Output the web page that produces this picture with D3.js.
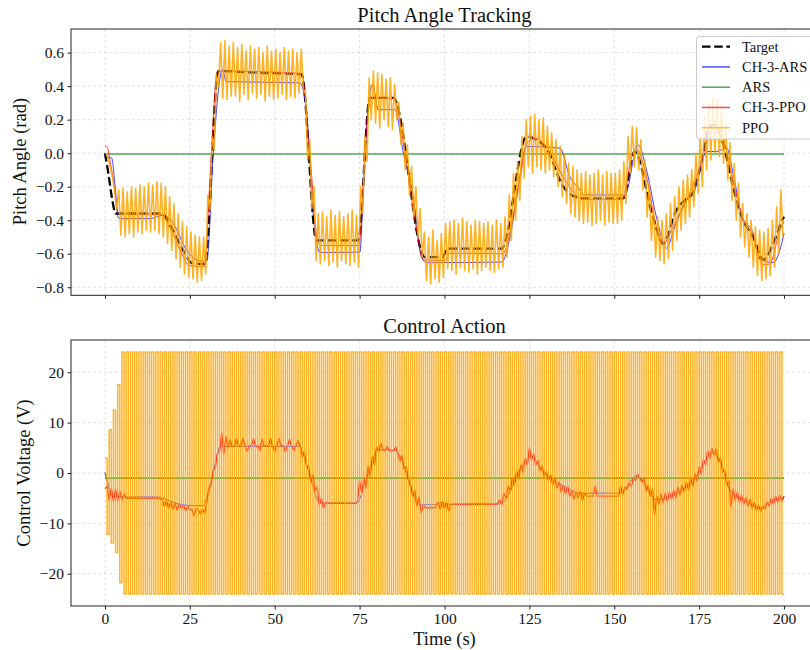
<!DOCTYPE html>
<html>
<head>
<meta charset="utf-8">
<script src="https://cdn.jsdelivr.net/npm/d3@7"></script>
<style>
  body { margin: 0; background: #fff; }
  text { font-family: "Liberation Serif", "Times New Roman", serif; }
</style>
</head>
<body>
<div id="chart"></div>
<script>
// ---- data ----
var seriesNames = ["Target", "CH-3-ARS", "ARS", "CH-3-PPO", "PPO"];
var xTicks = [0, 25, 50, 75, 100, 125, 150, 175, 200];
var pitchTicks = [-0.8, -0.6, -0.4, -0.2, 0.0, 0.2, 0.4, 0.6];
var voltTicks = [-20, -10, 0, 10, 20];

// pitch angle, [time s, rad]
var targetPitch = [[0,0],[1,-0.12],[2,-0.26],[3.2,-0.36],[16.7,-0.36],[20,-0.46],[23,-0.58],[26,-0.66],
  [29.4,-0.66],[33.4,0.49],[45,0.48],[57.9,0.47],[62.3,-0.52],[74.6,-0.52],[78,0.33],[84.9,0.33],
  [94.2,-0.62],[99.5,-0.62],[100.8,-0.57],[116.8,-0.57],[124.2,0.1],[127,0.08],[130,0.03],[135,-0.2],
  [139.3,-0.267],[140,-0.27],[152.6,-0.27],[156,0.01],[161.4,-0.38],[164.4,-0.54],[168.3,-0.34],
  [171.3,-0.27],[173,-0.24],[175.2,-0.1],[178.2,0.16],[179.5,0.17],[182,0.06],[185,-0.2],[187.5,-0.38],
  [190.9,-0.5],[193.9,-0.637],[196.8,-0.54],[199.7,-0.39],[200,-0.38]];

var ch3ArsPitch = [[0,-0.02],[2,-0.03],[3,-0.2],[3.9,-0.385],[4.9,-0.39],[13.3,-0.39],[17.2,-0.37],
  [20.1,-0.42],[24,-0.577],[28,-0.643],[30,-0.645],[31.9,0.0],[33.9,0.45],[34.5,0.5],[35.8,0.427],
  [57.4,0.42],[59.4,0.239],[61.3,-0.358],[63.3,-0.593],[75.1,-0.59],[76,-0.26],[77,0.14],[78.8,0.41],
  [80.5,0.26],[85.4,0.26],[87.9,0.0],[90.8,-0.26],[93.2,-0.617],[94.7,-0.653],[116.8,-0.65],[119.3,-0.5],
  [121.7,-0.2],[124.2,0.04],[134,0.03],[136.9,-0.14],[139.9,-0.22],[140.8,-0.249],[153.1,-0.25],
  [157,0.05],[159.5,-0.1],[162.4,-0.38],[165.4,-0.567],[167.8,-0.44],[171.3,-0.28],[173.2,-0.25],
  [175.2,-0.1],[177.2,0.01],[180.1,0.01],[183.1,0.03],[185,-0.12],[187.5,-0.37],[190.9,-0.48],
  [192.9,-0.63],[196.8,-0.653],[198.8,-0.577],[200,-0.477]];

var arsPitch = [[0,-0.005],[200,-0.005]];

var ch3PpoPitch = [[0,0.044],[0.8,0.03],[1.5,-0.05],[2.5,-0.16],[3.9,-0.36],[16.2,-0.364],[19.1,-0.44],
  [22.1,-0.577],[25,-0.672],[29.4,-0.675],[30.9,-0.16],[33.2,0.49],[57.9,0.477],[60.4,-0.02],
  [62.8,-0.537],[64,-0.551],[74.8,-0.551],[76,-0.2],[78,0.328],[84.9,0.328],[88.8,-0.06],[91.8,-0.458],
  [93.7,-0.637],[100.1,-0.64],[101.6,-0.597],[117.3,-0.6],[119.8,-0.418],[122.2,-0.16],[124.2,0.06],
  [126.5,0.09],[130,0.04],[134.9,-0.14],[139.4,-0.26],[141,-0.275],[152.6,-0.275],[155.1,-0.02],
  [156.6,0.02],[159.5,-0.14],[162.4,-0.44],[164.4,-0.54],[167.3,-0.44],[171.3,-0.28],[175.2,-0.08],
  [178.2,0.12],[179.5,0.15],[182.1,0.08],[185,-0.16],[188,-0.4],[190.9,-0.5],[193.9,-0.666],
  [195.8,-0.66],[198.8,-0.458],[200,-0.408]];

// PPO pitch oscillates: one peak and one trough per 1.25 s cycle
var ppoStep = 0.625;
var ppoPeak = [
  0.0,-0.08,-0.22,-0.22,-0.21,-0.23,-0.2,-0.21,-0.19,-0.2,
  -0.18,-0.19,-0.17,-0.18,-0.2,-0.26,-0.3,-0.36,-0.41,-0.44,
  -0.47,-0.49,-0.5,-0.5,-0.25,0.1,0.47,0.66,0.67,0.64,
  0.66,0.63,0.65,0.61,0.64,0.62,0.63,0.6,0.64,0.61,
  0.62,0.6,0.63,0.61,0.62,0.6,0.62,0.36,0.08,-0.2,
  -0.36,-0.35,-0.38,-0.34,-0.37,-0.35,-0.38,-0.36,-0.34,-0.37,
  -0.2,0.1,0.45,0.49,0.48,0.47,0.44,0.45,0.41,0.3,
  0.18,0.05,-0.08,-0.2,-0.33,-0.47,-0.5,-0.46,-0.52,-0.48,
  -0.42,-0.41,-0.4,-0.42,-0.39,-0.41,-0.43,-0.4,-0.41,-0.42,
  -0.41,-0.43,-0.4,-0.42,-0.38,-0.25,-0.12,-0.05,0.1,0.2,
  0.22,0.23,0.2,0.21,0.16,0.12,0.08,0.04,-0.01,-0.06,
  -0.08,-0.1,-0.12,-0.11,-0.13,-0.12,-0.1,-0.13,-0.11,-0.12,
  -0.12,-0.1,-0.05,0.1,0.16,0.15,0.08,-0.04,-0.18,-0.32,
  -0.38,-0.4,-0.36,-0.3,-0.26,-0.2,-0.16,-0.13,-0.1,0.0,
  0.1,0.22,0.3,0.33,0.32,0.28,0.18,0.06,-0.06,-0.18,
  -0.3,-0.36,-0.4,-0.44,-0.46,-0.47,-0.45,-0.4,-0.32,-0.22];
var ppoTrough = [
  -0.03,-0.14,-0.33,-0.49,-0.5,-0.48,-0.5,-0.47,-0.48,-0.46,
  -0.47,-0.46,-0.48,-0.5,-0.54,-0.58,-0.63,-0.68,-0.72,-0.74,
  -0.75,-0.77,-0.76,-0.72,-0.34,0.02,0.4,0.33,0.32,0.34,
  0.34,0.31,0.35,0.32,0.36,0.33,0.35,0.31,0.34,0.32,
  0.33,0.35,0.32,0.34,0.33,0.36,0.38,-0.04,-0.33,-0.64,
  -0.66,-0.64,-0.67,-0.65,-0.68,-0.64,-0.66,-0.67,-0.65,-0.68,
  -0.36,-0.05,0.2,0.18,0.15,0.2,0.16,0.14,0.2,0.05,
  -0.1,-0.25,-0.38,-0.5,-0.62,-0.76,-0.78,-0.75,-0.77,-0.74,
  -0.69,-0.7,-0.72,-0.68,-0.7,-0.71,-0.69,-0.72,-0.7,-0.68,
  -0.7,-0.71,-0.69,-0.68,-0.62,-0.52,-0.4,-0.28,-0.15,-0.08,
  -0.12,-0.08,-0.1,-0.12,-0.1,-0.14,-0.2,-0.26,-0.3,-0.36,
  -0.38,-0.4,-0.42,-0.41,-0.43,-0.42,-0.4,-0.43,-0.41,-0.42,
  -0.42,-0.4,-0.3,-0.12,-0.08,-0.1,-0.22,-0.38,-0.52,-0.62,
  -0.64,-0.66,-0.63,-0.58,-0.52,-0.46,-0.42,-0.38,-0.32,-0.24,
  -0.2,-0.1,-0.04,0.0,-0.02,-0.06,-0.16,-0.28,-0.4,-0.5,
  -0.56,-0.62,-0.68,-0.73,-0.76,-0.75,-0.73,-0.68,-0.6,-0.5];

// control voltage
var ch3ArsVolt = [[0,0.1],[1,-2.5],[2,-4.6],[3,-4.75],[15.2,-4.75],[17,-5.0],[20,-5.8],[24,-6.4],
  [28.9,-6.5],[30,-4.9],[31.5,-1.0],[33,3.5],[33.9,5.3],[57.4,5.3],[60,0.3],[63.3,-5.94],[74.1,-6.0],
  [77,-1.2],[80.5,4.6],[85.4,4.5],[92.8,-6.3],[97,-6.3],[99,-5.8],[101,-6.2],[116.3,-6.15],[124.2,2.6],
  [125.5,3.3],[127,2.2],[129,0.3],[132,-1.4],[135,-2.6],[137,-3.3],[139.9,-4.0],[151.7,-4.0],
  [156.6,-0.5],[162.4,-5.3],[168.3,-4.0],[171,-2.8],[173.2,-1.7],[176.2,2.0],[179.1,4.0],[182.1,0.65],
  [184,-3.3],[188,-5.3],[192.9,-6.9],[196.8,-5.3],[200,-4.95]];

var arsVolt = [[0,-1.0],[200,-1.0]];

// CH-3-PPO voltage, one value every ppoStep seconds
var ch3PpoVolt = [
  -3.1,-2.6,-5.4,-3.0,-5.6,-3.2,-5.5,-3.6,-5.3,-4.2,-5.0,-5.0,-5.0,-5.0,-5.0,-5.0,
  -5.0,-5.0,-5.0,-5.0,-5.0,-5.0,-5.0,-5.0,-5.0,-5.0,-5.1,-5.3,-6.6,-5.5,-6.9,-5.8,
  -7.2,-6.0,-7.4,-6.2,-7.0,-6.4,-7.5,-6.6,-7.3,-7.2,-8.5,-7.1,-7.3,-8.2,-7.2,-8.0,
  -5.8,-3.0,-2.4,0.5,1.0,3.9,4.2,7.9,3.8,7.2,5.0,6.6,5.2,5.4,6.8,5.3,
  5.4,6.9,5.3,4.3,5.4,5.4,6.8,5.2,5.4,4.4,6.7,5.4,5.3,5.4,6.9,5.3,
  4.3,5.4,6.8,5.3,5.4,4.2,5.4,6.7,5.3,4.5,5.4,6.4,5.2,3.2,4.1,1.4,
  1.1,-1.8,-0.4,-3.6,-2.8,-6.2,-5.0,-7.0,-5.8,-6.0,-6.0,-6.0,-6.0,-6.0,-6.0,-6.0,
  -6.0,-6.0,-6.0,-6.0,-6.0,-6.0,-6.0,-5.6,-1.6,-4.0,-1.0,-3.0,1.4,-0.8,3.2,1.5,
  5.2,4.2,5.9,4.6,4.5,5.3,4.5,4.4,4.5,5.2,3.8,2.4,3.5,0.7,1.3,-1.2,
  -2.2,-4.6,-3.4,-6.6,-4.8,-7.9,-6.5,-6.9,-6.9,-6.9,-6.9,-6.9,-6.7,-5.9,-7.2,-5.7,
  -7.0,-5.8,-7.6,-6.3,-6.2,-6.2,-6.2,-6.2,-6.2,-6.2,-6.2,-6.2,-6.2,-6.2,-6.2,-6.2,
  -6.2,-6.2,-6.2,-6.2,-6.2,-6.2,-6.2,-6.2,-6.2,-6.1,-5.3,-6.2,-4.0,-5.0,-2.6,-3.6,
  -0.9,-2.3,0.4,-1.1,1.6,0.2,2.9,1.6,5.0,2.6,3.8,1.6,2.5,0.5,1.4,-0.7,
  0.3,-1.4,-0.4,-2.4,-1.0,-3.0,-1.8,-3.8,-2.4,-4.2,-2.6,-4.6,-3.4,-5.2,-3.8,-4.9,
  -3.6,-5.4,-4.0,-4.6,-4.6,-4.6,-4.6,-2.6,-4.6,-4.6,-4.6,-4.6,-4.6,-4.6,-4.6,-4.6,
  -4.6,-4.6,-4.6,-2.7,-4.3,-2.8,-3.2,-2.0,-2.6,-1.1,-1.5,-0.3,-1.0,-1.8,-1.0,-3.6,
  -2.4,-4.6,-3.2,-8.3,-4.6,-6.2,-4.2,-5.9,-4.0,-5.6,-3.8,-5.2,-3.4,-4.9,-2.8,-4.4,
  -2.4,-3.8,-1.8,-3.4,-1.0,-2.7,-0.2,-1.6,1.1,-0.2,2.6,1.6,4.4,2.8,4.9,3.6,
  4.8,2.2,3.0,0.2,0.6,-2.4,-1.6,-6.6,-3.2,-5.4,-3.8,-5.8,-4.4,-6.2,-4.8,-6.6,
  -5.2,-7.0,-5.8,-7.4,-6.4,-7.6,-6.6,-7.2,-5.8,-6.6,-5.0,-6.2,-4.6,-5.8,-4.4,-5.6,-4.6];

// PPO voltage, saturating bang-bang, one value every ppoStep seconds
var ppoVolt = [3,-12.2,8.6,-13.9,12.5,-15.8,17.5,-21.8,
  24,-24,24,-24,24,-24,24,-24,24,-24,24,-24,24,-24,24,-24,24,-24,24,-24,24,-24,24,-24,24,-24,
  24,-24,24,-24,24,-24,24,-24,24,-24,24,-24,24,-24,24,-24,24,-24,24,-24,24,-24,24,-24,24,-24,
  24,-24,24,-24,24,-24,24,-24,24,-24,24,-24,24,-24,24,-24,24,-24,24,-24,24,-24,24,-24,24,-24,
  24,-24,24,-24,24,-24,24,-24,24,-24,24,-24,24,-24,24,-24,24,-24,24,-24,24,-24,24,-24,24,-24,
  24,-24,24,-24,24,-24,24,-24,24,-24,24,-24,24,-24,24,-24,24,-24,24,-24,24,-24,24,-24,24,-24,
  24,-24,24,-24,24,-24,24,-24,24,-24,24,-24,24,-24,24,-24,24,-24,24,-24,24,-24,24,-24,24,-24,
  24,-24,24,-24,24,-24,24,-24,24,-24,24,-24,24,-24,24,-24,24,-24,24,-24,24,-24,24,-24,24,-24,
  24,-24,24,-24,24,-24,24,-24,24,-24,24,-24,24,-24,24,-24,24,-24,24,-24,24,-24,24,-24,24,-24,
  24,-24,24,-24,24,-24,24,-24,24,-24,24,-24,24,-24,24,-24,24,-24,24,-24,24,-24,24,-24,24,-24,
  24,-24,24,-24,24,-24,24,-24,24,-24,24,-24,24,-24,24,-24,24,-24,24,-24,24,-24,24,-24,24,-24,
  24,-24,24,-24,24,-24,24,-24,24,-24,24,-24,24,-24,24,-24,24,-24,24,-24,24,-24,24,-24,24,-24,
  24,-24,24,-24,24,-24,24,-24,24,-24,24,-24,24,-24,24,-24,24,-24,24,-24,24,-24,24,-24,24,-24];

// ---- layout ----
var W = 810, H = 650;
var colours = {"Target": "#000", "CH-3-ARS": "blue", "ARS": "green", "CH-3-PPO": "red", "PPO": "orange"};

var svg = d3.select("#chart").append("svg").attr("width", W).attr("height", H);

var x = d3.scaleLinear().domain([-10, 210]).range([71, 818]);
var yPitch = d3.scaleLinear().domain([-0.848, 0.741]).range([295.3, 29]);
var yVolt = d3.scaleLinear().domain([-26.4, 26.4]).range([606, 340]);

// ppo series built from step-sampled arrays
var ppoPitch = [];
ppoPeak.forEach(function(p, k) {
    ppoPitch.push([(2 * k + 0.5) * ppoStep, p]);
    ppoPitch.push([(2 * k + 1.5) * ppoStep, ppoTrough[k]]);
});
var ch3PpoVoltPts = ch3PpoVolt.map(function(v, i) { return [i * ppoStep, v]; });
var ppoVoltPts = ppoVolt.map(function(v, i) { return [i * ppoStep, v]; });
ppoVoltPts.push([200, ppoVolt[ppoVolt.length - 1]]);

function panel(y0, y1, y, yTicks, yFmt, showX, id) {
    var g = svg.append("g");
    g.append("clipPath").attr("id", id).append("rect")
        .attr("x", 71).attr("y", y0).attr("width", 747).attr("height", y1 - y0);

    // grid
    var grid = g.append("g").attr("stroke", "#b0b0b0").attr("stroke-opacity", 0.45)
        .attr("stroke-width", 0.8).attr("stroke-dasharray", "3,2.5");
    xTicks.forEach(function(t) {
        grid.append("line").attr("x1", x(t)).attr("x2", x(t)).attr("y1", y0).attr("y2", y1);
    });
    yTicks.forEach(function(t) {
        grid.append("line").attr("x1", 71).attr("x2", 818).attr("y1", y(t)).attr("y2", y(t));
    });

    var xAxisCall = d3.axisBottom(x).tickValues(xTicks).tickSize(3.5).tickPadding(3.5)
        .tickFormat(showX ? d3.format("d") : "");
    var xa = g.append("g").attr("transform", "translate(0," + y1 + ")").call(xAxisCall);
    var yAxisCall = d3.axisLeft(y).tickValues(yTicks).tickSize(3.5).tickPadding(3.5).tickFormat(yFmt);
    var ya = g.append("g").attr("transform", "translate(71,0)").call(yAxisCall);
    [xa, ya].forEach(function(a) {
        a.select(".domain").remove();
        a.selectAll("line").attr("stroke", "#222");
        a.selectAll("text").attr("font-size", "15.5px").attr("fill", "#111");
    });

    var plot = g.append("g").attr("clip-path", "url(#" + id + ")");
    return {g: g, plot: plot, y0: y0, y1: y1};
}

function frame(p) {
    p.g.append("rect").attr("x", 71).attr("y", p.y0).attr("width", 760).attr("height", p.y1 - p.y0)
        .attr("fill", "none").attr("stroke", "#222").attr("stroke-width", 1);
}

function addLine(plot, data, y, colour, width, opacity, curve, dash) {
    var line = d3.line().x(function(d) { return x(d[0]); }).y(function(d) { return y(d[1]); }).curve(curve);
    var p = plot.append("path").datum(data).attr("d", line).attr("fill", "none")
        .attr("stroke", colour).attr("stroke-width", width).attr("stroke-opacity", opacity)
        .attr("stroke-linejoin", "round");
    if (dash) p.attr("stroke-dasharray", dash);
    return p;
}

// Top panel
var pTop = panel(29, 295.3, yPitch, pitchTicks, d3.format(".1f"), false, "clipTop");
addLine(pTop.plot, targetPitch, yPitch, colours["Target"], 2.3, 1, d3.curveMonotoneX, "8.5,3.7");
addLine(pTop.plot, ch3ArsPitch, yPitch, colours["CH-3-ARS"], 1, 0.75, d3.curveMonotoneX);
addLine(pTop.plot, arsPitch, yPitch, colours["ARS"], 1.2, 1, d3.curveLinear);
addLine(pTop.plot, ch3PpoPitch, yPitch, colours["CH-3-PPO"], 1, 0.75, d3.curveMonotoneX);
addLine(pTop.plot, ppoPitch, yPitch, colours["PPO"], 1.6, 0.85, d3.curveLinear);
frame(pTop);

// Bottom panel
var pBot = panel(340, 606, yVolt, voltTicks, d3.format("d"), true, "clipBot");
addLine(pBot.plot, ch3ArsVolt, yVolt, colours["CH-3-ARS"], 1, 0.75, d3.curveMonotoneX);
addLine(pBot.plot, arsVolt, yVolt, colours["ARS"], 1.2, 1, d3.curveLinear);
addLine(pBot.plot, ch3PpoVoltPts, yVolt, colours["CH-3-PPO"], 1.4, 0.85, d3.curveLinear);
addLine(pBot.plot, ppoVoltPts, yVolt, colours["PPO"], 1.5, 0.85, d3.curveStepAfter);
frame(pBot);

// titles and labels
svg.append("text").attr("x", 444.5).attr("y", 22).attr("text-anchor", "middle")
    .attr("font-size", "20.5px").attr("fill", "#111").text("Pitch Angle Tracking");
svg.append("text").attr("x", 444.5).attr("y", 333).attr("text-anchor", "middle")
    .attr("font-size", "20.5px").attr("fill", "#111").text("Control Action");
svg.append("text").attr("x", 444.5).attr("y", 645).attr("text-anchor", "middle")
    .attr("font-size", "18.5px").attr("fill", "#111").text("Time (s)");
svg.append("text").attr("transform", "translate(25.5," + yPitch(-0.05) + ") rotate(-90)")
    .attr("text-anchor", "middle").attr("font-size", "18.5px").attr("fill", "#111").text("Pitch Angle (rad)");
svg.append("text").attr("transform", "translate(29.5," + yVolt(0) + ") rotate(-90)")
    .attr("text-anchor", "middle").attr("font-size", "18.5px").attr("fill", "#111").text("Control Voltage (V)");

// legend
var legend = svg.append("g").attr("class", "legend");
legend.append("rect").attr("x", 696.5).attr("y", 36.5).attr("width", 130).attr("height", 102.5)
    .attr("rx", 3).attr("fill", "#fff").attr("fill-opacity", 0.8).attr("stroke", "#cccccc");
var item = legend.selectAll("g.item").data(seriesNames).enter().append("g")
    .attr("class", "item")
    .attr("transform", function(d, i) { return "translate(0," + (46.7 + i * 20.25) + ")"; });
item.append("line").attr("x1", 702).attr("x2", 730).attr("y1", 0).attr("y2", 0)
    .attr("stroke", function(d) { return colours[d]; })
    .attr("stroke-width", function(d) { return d === "Target" ? 2.3 : 1.5; })
    .attr("stroke-opacity", function(d) { return d === "Target" ? 1 : 0.7; })
    .attr("stroke-dasharray", function(d) { return d === "Target" ? "8.5,3.7" : null; });
item.append("text").attr("x", 742).attr("y", 5).attr("font-size", "14.5px").attr("fill", "#111")
    .text(function(d) { return d; });
</script>
</body>
</html>
